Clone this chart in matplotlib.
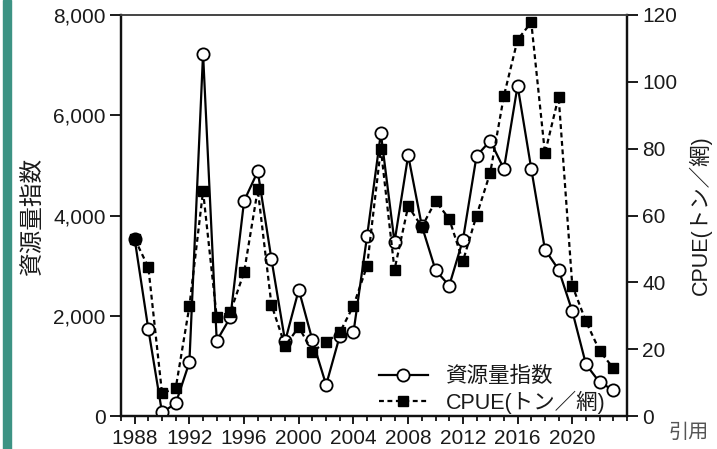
import matplotlib
matplotlib.use('Agg')
import matplotlib.pyplot as plt
from matplotlib.ticker import FuncFormatter, MultipleLocator
from matplotlib.patches import Rectangle

# data
years = list(range(1988, 2024))
shigen = [3530, 1730, 70, 250, 1070, 7230, 1500, 1970, 4290, 4880,
          3130, 1490, 2520, 1510, 620, 1600, 1670, 3600, 5640, 3470,
          5200, 3790, 2910, 2600, 3510, 5190, 5490, 4930, 6590, 4930,
          3320, 2920, 2090, 1030, 670, 520]
cpue = [53, 44.5, 6.8, 8.3, 32.8, 67.3, 29.6, 31.1, 43, 67.8,
        33.3, 21, 26.6, 19.3, 22.1, 25, 33, 45, 80, 43.8,
        62.8, 56.6, 64.3, 59, 46.3, 60, 72.8, 95.8, 112.6, 117.8,
        78.6, 95.6, 39, 28.3, 19.5, 14.3]
label_shigen = '資源量指数'
label_cpue = 'CPUE(トン／網)'

fonts = ['Liberation Sans', 'Noto Sans CJK JP', 'DejaVu Sans']
plt.rcParams['font.family'] = fonts
txt = '#1a1a1a'

fig = plt.figure(figsize=(7.17, 4.49), dpi=100)
ax = fig.add_axes([121/717, 1-416/449, (627-121)/717, (416-15)/449])
ax2 = ax.twinx()

l1, = ax.plot(years, shigen, '-', color='black', lw=1.6, marker='o',
              ms=8.8, mfc='white', mec='black', mew=1.3, zorder=3)
l2, = ax2.plot(years, cpue, color='black', lw=1.6, ls=(0, (2.2, 1.6)),
               marker='s', ms=6.5, mfc='black', mec='black', zorder=3)

ax.set_xlim(1987, 2024)
ax.set_ylim(0, 8000)
ax2.set_ylim(0, 120)
ax.xaxis.set_minor_locator(MultipleLocator(1))
ax.set_xticks(range(1988, 2024, 4))
ax.yaxis.set_major_locator(MultipleLocator(2000))
ax2.yaxis.set_major_locator(MultipleLocator(20))
ax.yaxis.set_major_formatter(FuncFormatter(lambda v, p: f'{int(v):,}'))

ax.tick_params(axis='x', which='major', direction='out', length=6, width=1.4,
               labelsize=15, pad=3, colors=txt)
ax.tick_params(axis='x', which='minor', direction='out', length=3.5, width=1.2)
ax.tick_params(axis='y', direction='out', length=8, width=1.4, labelsize=15,
               pad=3, colors=txt)
ax2.tick_params(axis='y', direction='out', length=8, width=1.4, labelsize=15,
                pad=3, colors=txt)

for a in (ax, ax2):
    for s in a.spines.values():
        s.set_linewidth(1.6)
        s.set_color('#111111')
    a.spines['top'].set_linewidth(1.2)
    a.spines['top'].set_color('#444444')

ax.set_ylabel(label_shigen, fontsize=17, color=txt, family=['Noto Sans CJK JP'])
ax.yaxis.set_label_coords(-0.152, 0.5)
ax2.set_ylabel(label_cpue, fontsize=15.5, color=txt, rotation=90)
ax2.yaxis.set_label_coords(1.122, 0.5)

leg = ax2.legend([l1, l2], [label_shigen, label_cpue], loc='lower left',
                 bbox_to_anchor=(0.505, 0.0), frameon=False, fontsize=15.5,
                 handlelength=2.3, handletextpad=0.8, labelspacing=0.15,
                 borderpad=0.1, borderaxespad=0.0)
for t in leg.get_texts():
    t.set_color(txt)

# teal strip on the left edge and the note at the bottom right
fig.patches.append(Rectangle((3/717, 0), 8/717, 1, transform=fig.transFigure,
                             color='#3d9384', zorder=0))
fig.text(668/717, 1-432/449, '引用', fontsize=14.5, color='#555555',
         va='center', ha='left', family=['Noto Sans CJK JP'])

fig.savefig('out.png', dpi=100)
